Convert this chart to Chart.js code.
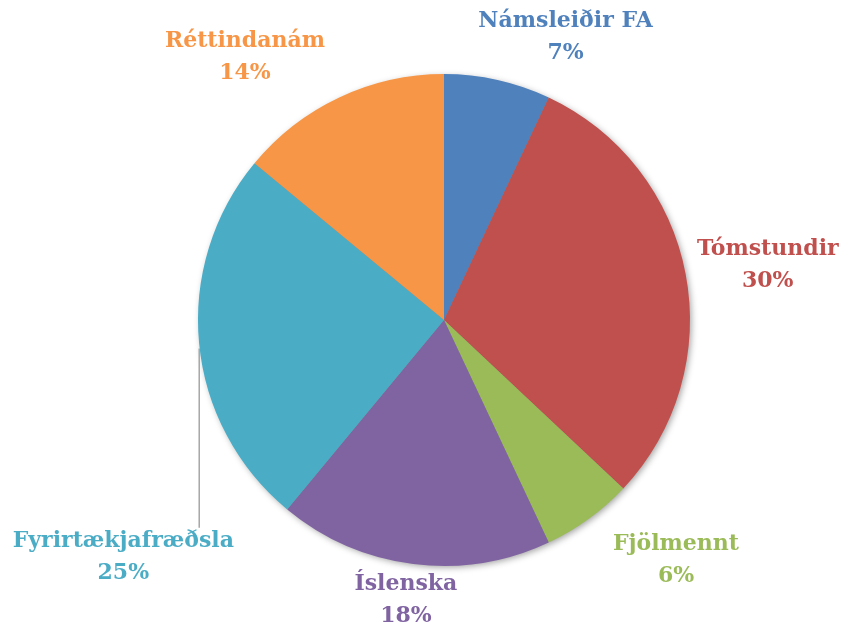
<!DOCTYPE html>
<html>
<head>
<meta charset="utf-8">
<script src="https://cdn.jsdelivr.net/npm/chart.js@4"></script>
<style>
  body { margin: 0; background: #fff; }
  #wrap { width: 855px; height: 630px; }
</style>
</head>
<body>
<div id="wrap"><canvas id="chart" width="855" height="630"></canvas></div>
<script>
// Données du graphique
const categories = ['Námsleiðir FA', 'Tómstundir', 'Fjölmennt', 'Íslenska', 'Fyrirtækjafræðsla', 'Réttindanám'];
const values = [7, 30, 6, 18, 25, 14];
const colors = ['#4F81BD', '#C0504D', '#9BBB59', '#8064A2', '#4BACC6', '#F79646'];

// décalage de chaque étiquette par rapport à sa position radiale
const labelShift = [[57, 5], [33, 0], [58, 0], [-1, -14], [-26, 208], [-73, 4]];

// Ombre portée sous le disque entier (une seule fois)
const shadowPlugin = {
    id: 'shadow',
    beforeDatasetsDraw(chart) {
        const arc = chart.getDatasetMeta(0).data[0];
        if (!arc) return;
        const ctx = chart.ctx;
        ctx.save();
        ctx.shadowColor = 'rgba(0,0,0,0.4)';
        ctx.shadowBlur = 7;
        ctx.shadowOffsetX = 2;
        ctx.shadowOffsetY = 2;
        ctx.fillStyle = '#888';
        ctx.beginPath();
        ctx.arc(arc.x, arc.y, arc.outerRadius - 1, 0, Math.PI * 2);
        ctx.fill();
        ctx.restore();
    }
};

const labelPlugin = {
    id: 'sliceLabels',
    afterDatasetsDraw(chart) {
        const ctx = chart.ctx;
        const meta = chart.getDatasetMeta(0);
        const total = values.reduce((a, b) => a + b, 0);
        ctx.save();
        ctx.font = 'bold 22px "DejaVu Serif", serif';
        ctx.textAlign = 'center';
        ctx.textBaseline = 'middle';
        meta.data.forEach((arc, i) => {
            const mid = (arc.startAngle + arc.endAngle) / 2;
            const d = arc.outerRadius + 50;
            const x = arc.x + Math.cos(mid) * d + labelShift[i][0];
            const y = arc.y + Math.sin(mid) * d + labelShift[i][1];
            ctx.fillStyle = colors[i];
            ctx.fillText(categories[i], x, y - 15);
            ctx.fillText(Math.round(values[i] / total * 100) + '%', x, y + 17);
            // trait de rappel pour Fyrirtækjafræðsla
            if (i === 4) {
                const lx = arc.x - arc.outerRadius * 0.995;
                const ly = arc.y + Math.sqrt(arc.outerRadius ** 2 - (arc.outerRadius * 0.995) ** 2) + 4;
                ctx.strokeStyle = '#A6A6A6';
                ctx.lineWidth = 1.5;
                ctx.beginPath();
                ctx.moveTo(lx, ly);
                ctx.lineTo(lx, y - 28);
                ctx.stroke();
            }
        });
        ctx.restore();
    }
};

new Chart(document.getElementById('chart'), {
    type: 'pie',
    data: {
        labels: categories,
        datasets: [{
            data: values,
            backgroundColor: colors,
            borderWidth: 0
        }]
    },
    options: {
        responsive: false,
        animation: false,
        layout: { padding: { left: 198, right: 165, top: 74, bottom: 64 } },
        plugins: {
            legend: { display: false },
            tooltip: { enabled: false }
        }
    },
    plugins: [shadowPlugin, labelPlugin]
});
</script>
</body>
</html>
